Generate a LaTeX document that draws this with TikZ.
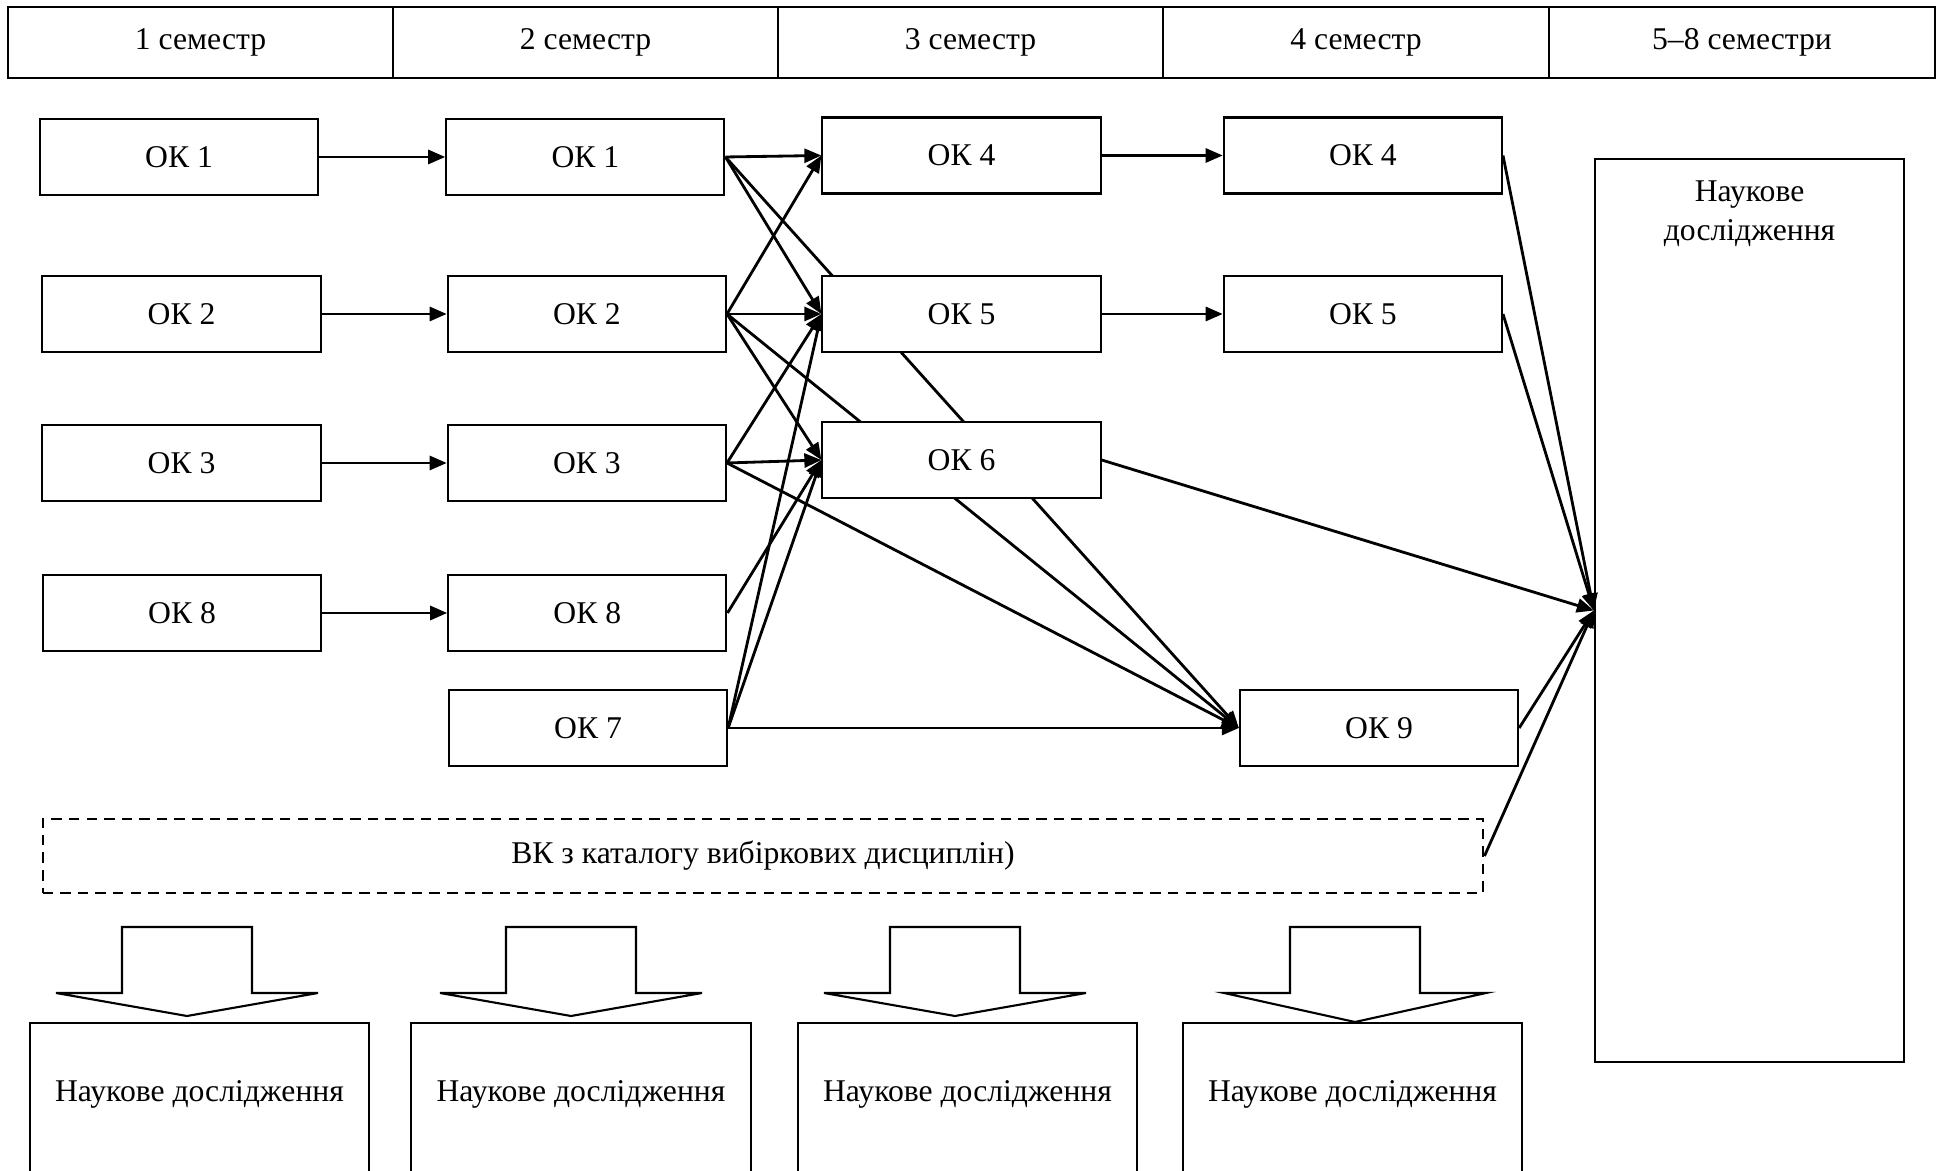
\documentclass[tikz,border=0pt]{standalone}
\usepackage{fontspec}
\setmainfont{Liberation Serif}
\usetikzlibrary{arrows.meta,positioning,backgrounds}

\begin{document}
\begin{tikzpicture}[->,>={Triangle[length=1.7mm,width=1.4mm]},thick,x=0.01cm,y=-0.01cm,
    ok node/.style={draw,semithick,fill=white,minimum width=2.78cm,minimum height=0.76cm,inner sep=0pt,font=\fontsize{9}{11}\selectfont},
    sem node/.style={draw,semithick,minimum width=3.85cm,minimum height=0.71cm,inner sep=0pt,font=\fontsize{9}{11}\selectfont},
    res node/.style={draw,semithick,anchor=north,minimum width=3.39cm,minimum height=2.1cm,text height=0.3cm,text depth=0.84cm,font=\fontsize{9}{11}\selectfont}]
    \useasboundingbox (0,0) rectangle (1943,1171);

    % semesters
    \node[sem node] (s1) at (200.5,42.5) {1 семестр};
    \node[sem node] (s2) at (585.5,42.5) {2 семестр};
    \node[sem node] (s3) at (970.5,42.5) {3 семестр};
    \node[sem node] (s4) at (1356,42.5) {4 семестр};
    \node[sem node] (s5) at (1742,42.5) {5–8 семестри};

    \node[ok node] (a1) at (179,157) {ОК 1};
    \node[ok node] (a2) at (181.5,314) {ОК 2};
    \node[ok node] (a3) at (181.5,463) {ОК 3};
    \node[ok node] (a8) at (182,613) {ОК 8};

    \node[ok node] (b1) [right=1.26cm of a1] {ОК 1};
    \node[ok node] (b2) [right=1.25cm of a2] {ОК 2};
    \node[ok node] (b3) [right=1.25cm of a3] {ОК 3};
    \node[ok node] (b8) [right=1.25cm of a8] {ОК 8};
    \node[ok node] (b7) at (588,728) {ОК 7};

    \node[ok node] (c4) at (961.5,155.5) {ОК 4};
    \node[ok node] (c5) at (961.5,314) {ОК 5};
    \node[ok node] (c6) at (961.5,460) {ОК 6};

    \node[ok node] (d4) [right=1.21cm of c4] {ОК 4};
    \node[ok node] (d5) [right=1.21cm of c5] {ОК 5};
    \node[ok node] (d9) at (1379,728) {ОК 9};

    \node[draw,semithick,minimum width=3.09cm,minimum height=9.03cm,
        label={[anchor=north,yshift=-0.1cm,align=center,font=\fontsize{9}{11}\selectfont]north:Наукове\\дослідження}] (nd) at (1749.5,610.5) {};

    \node[draw,semithick,dash pattern=on 3pt off 2pt,minimum width=14.4cm,minimum height=0.74cm,font=\fontsize{9}{11}\selectfont] (vk) at (763,856) {ВК з каталогу вибіркових дисциплін)};

    \begin{scope}[on background layer]
    \path[thick]
        (a1.east) edge (b1.west)
        (a2.east) edge (b2.west)
        (a3.east) edge (b3.west)
        (a8.east) edge (b8.west)
        (b1.east) edge (c4.west)
        (b1.east) edge (c5.west)
        (b1.east) edge (d9.west)
        (b2.east) edge (c4.west)
        (b2.east) edge (c5.west)
        (b2.east) edge (c6.west)
        (b2.east) edge (d9.west)
        (b3.east) edge (c5.west)
        (b3.east) edge (c6.west)
        (b3.east) edge (d9.west)
        (b8.east) edge (c6.west)
        (b7.east) edge (c5.west)
        (b7.east) edge (c6.west)
        (b7.east) edge (d9.west)
        (c4.east) edge (d4.west)
        (c5.east) edge (d5.west)
        (c6.east) edge (nd.west)
        (d4.east) edge (nd.west)
        (d5.east) edge (nd.west)
        (d9.east) edge (nd.west)
        (vk.east) edge (nd.west)
        ;
    \end{scope}

    % block arrows
    \foreach \cx/\ty in {187/1016,571/1016,955/1016,1355/1022}
        \draw[-,semithick] (\cx-65,927) -- (\cx+65,927) -- (\cx+65,993) -- (\cx+131,993)
            -- (\cx,\ty) -- (\cx-131,993) -- (\cx-65,993) -- cycle;

    \node[res node] (r1) at (199.5,1022) {Наукове дослідження};
    \node[res node] (r2) at (581,1022) {Наукове дослідження};
    \node[res node] (r3) at (967.5,1022) {Наукове дослідження};
    \node[res node] (r4) at (1352.5,1022) {Наукове дослідження};
\end{tikzpicture}
\end{document}
